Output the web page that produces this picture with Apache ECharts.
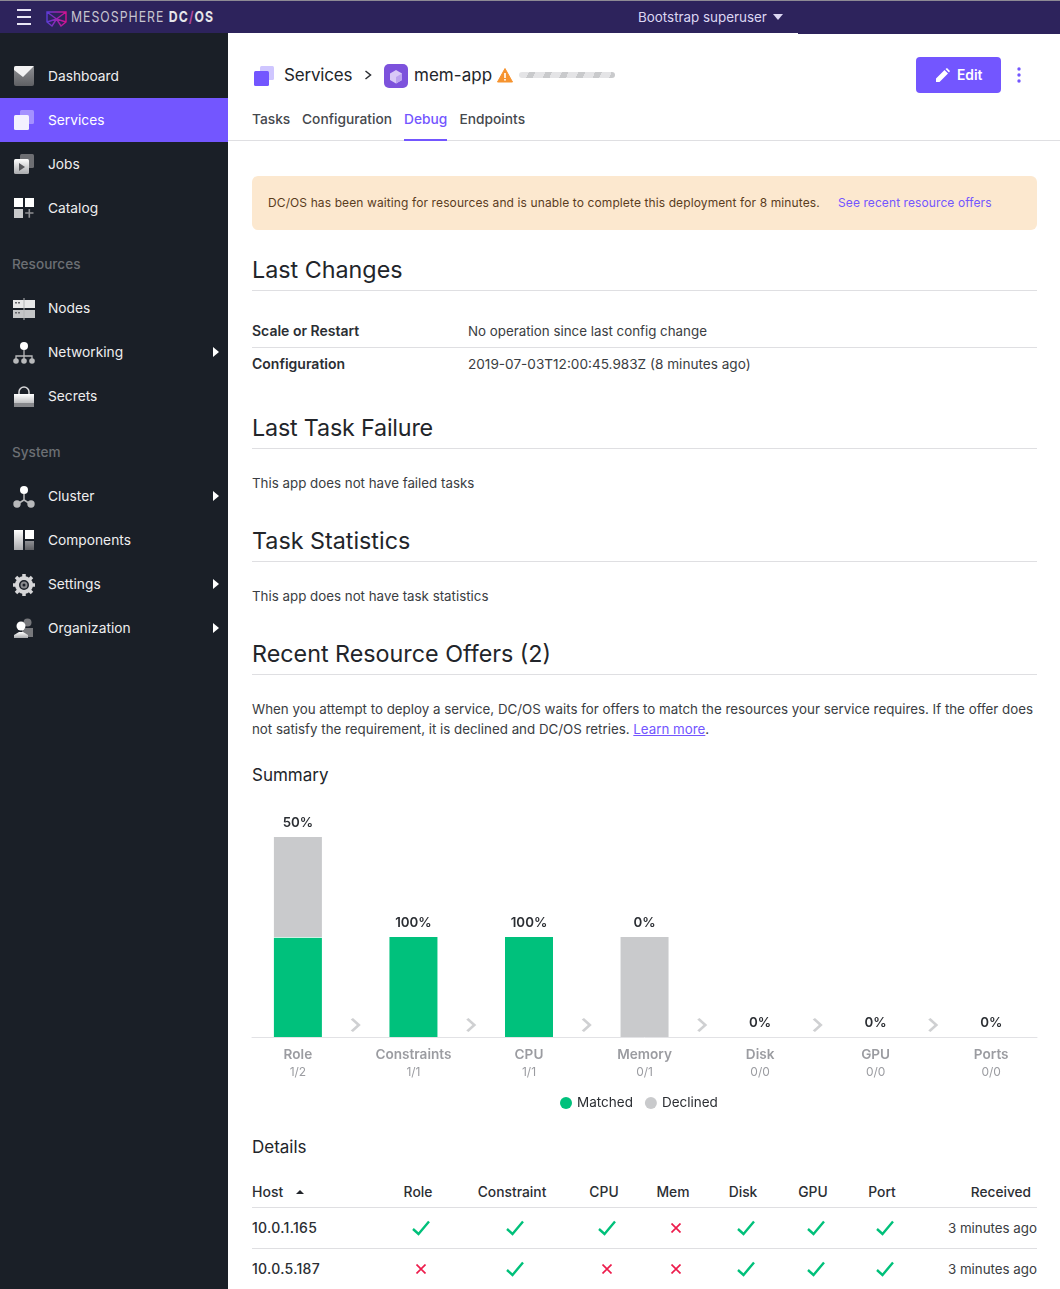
<!DOCTYPE html>
<html><head><meta charset="utf-8">
<script src="https://cdn.jsdelivr.net/npm/echarts@6/dist/echarts.min.js"></script>
<style>
html,body{margin:0;padding:0;background:#fff;width:1060px;height:1289px;overflow:hidden;font-family:Inter,sans-serif;-webkit-font-smoothing:antialiased}
#page{position:relative;width:1060px;height:1289px;overflow:hidden}
.t{position:absolute;white-space:nowrap;line-height:1.2}
.b{position:absolute}
svg{position:absolute;display:block}
a{color:inherit}
</style></head><body><div id="page">
<div class="b" style="left:0;top:33px;width:228px;height:1256px;background:#1a1f27"></div>
<div class="b" style="left:0;top:0;width:1060px;height:33px;background:#2d235c"></div>
<div class="b" style="left:798px;top:33px;width:262px;height:1px;background:#2d235c"></div>
<div class="b" style="left:0;top:0;width:1060px;height:1px;background:#8d8a94"></div>
<div class="b" style="left:0;top:98px;width:228px;height:44px;background:#7356ff"></div>
<div id="chart" class="b" style="left:228px;top:790px;width:832px;height:330px"></div>
</div>
<script>
// ---------- chart data ----------
const categories = ['Role','Constraints','CPU','Memory','Disk','GPU','Ports'];
const ratioLabels = ['1/2','1/1','1/1','0/1','0/0','0/0','0/0'];
const percentLabels = ['50%','100%','100%','0%','0%','0%','0%'];
const matched = [1,1,1,0,0,0,0];
const declined = [1,0,0,1,0,0,0];
const seriesNames = ['Matched','Declined'];
// steps between the bars, on a 0–6 position scale
const stepPositions = [0.5,1.5,2.5,3.5,4.5,5.5];

// ---------- page text ----------
const navItems = [['Dashboard',76],['Services',120],['Jobs',164],['Catalog',208],['Nodes',308],['Networking',352,1],['Secrets',396],['Cluster',496,1],['Components',540],['Settings',584,1],['Organization',628,1]];
const navSections = [['Resources',264],['System',452]];
const tabs = [['Tasks',252],['Configuration',302],['Debug',404],['Endpoints',459.5]];
const tableHeads = [['Role',418],['Constraint',512],['CPU',604],['Mem',673],['Disk',743],['GPU',813],['Port',882]];
const markCols = [421,515,607,676,746,816,885];
const rows = [
  {host:'10.0.1.165',y:1228,marks:[1,1,1,0,1,1,1],age:'3 minutes ago'},
  {host:'10.0.5.187',y:1269,marks:[0,1,0,0,1,1,1],age:'3 minutes ago'}
];

const page = document.getElementById('page');
function T(x,y,s,o){o=o||{};
  const e=document.createElement('div');e.className='t';e.innerHTML=s;
  const tx=o.a==='c'?'-50%':o.a==='r'?'-100%':'0';
  e.style.cssText+=`left:${x}px;top:${y}px;transform:translate(${tx},-50%);font-size:${o.s||14}px;font-weight:${o.w||400};color:${o.c||'#2b2e33'};${o.x||''}`;
  page.appendChild(e);}
function B(x,y,w,h,c,x2){const e=document.createElement('div');e.className='b';
  e.style.cssText+=`left:${x}px;top:${y}px;width:${w}px;height:${h}px;background:${c};${x2||''}`;page.appendChild(e);}
function S(x,y,w,h,inner,vb){page.insertAdjacentHTML('beforeend',`<svg style="left:${x}px;top:${y}px" width="${w}" height="${h}" viewBox="${vb||('0 0 '+w+' '+h)}">${inner}</svg>`);}

// gradient defs
S(0,0,0,0,`<defs><linearGradient id="g" x1="0" y1="0" x2="0" y2="1"><stop offset="0" stop-color="#fff"/><stop offset="1" stop-color="#a9aaad"/></linearGradient>
<linearGradient id="g2" x1="0" y1="0" x2="0" y2="1"><stop offset="0" stop-color="#8f9094"/><stop offset="1" stop-color="#5f6064"/></linearGradient>
<linearGradient id="lg" x1="0" y1="0" x2="1" y2="0"><stop offset="0" stop-color="#5b3bd6"/><stop offset="1" stop-color="#d5118f"/></linearGradient></defs>`);

// top bar
[10,17,24].forEach(y=>B(17,y-1,14,2,'#e9e6f5'));
S(46,11,21,16,`<path d="M1 1 L20 1 L20 11 L15 15 L10.5 8 L6 15 L1 11 Z M1 1 L10.5 8 L20 1 M1 11 L10.5 8 L20 11" fill="none" stroke="url(#lg)" stroke-width="1.4"/>`);
T(71,17,'MESOSPHERE <b style="color:#e6e6ea;font-weight:700">DC<span style="color:#b0479f">/</span>OS</b>',{c:'#c7c5cf',s:14,x:'letter-spacing:1.15px;transform-origin:left center;transform:translate(0,-50%) scale(.877,1.08);'});
T(638,17,'Bootstrap superuser',{c:'#dcd7f3',s:13.4});
S(773,14,10,6,'<path d="M0 0H10L5 6Z" fill="#dcd7f3"/>');

// sidebar icons
const icons={
 Dashboard:'<rect width="20" height="20" rx="2" fill="url(#g2)"/><path d="M6 0H20L9 11 L0 4V2A2 2 0 0 1 2 0Z" fill="#f2f2f3"/>',
 Services:'<rect x="6" width="14" height="14" rx="1.5" fill="#ffffff" opacity=".35"/><rect y="5" width="15" height="15" rx="1.5" fill="#f3f1ff"/>',
 Jobs:'<rect x="6" width="14" height="14" rx="1.5" fill="#6d6e72"/><rect y="5" width="15" height="15" rx="1.5" fill="url(#g)"/><path d="M5 9 L11 13 L5 17Z" fill="#55565a"/>',
 Catalog:'<rect width="9" height="9" fill="#fff"/><rect x="11" width="9" height="9" fill="#fff"/><rect y="11" width="9" height="9" fill="#c8c9cb"/><path d="M14.5 11h1.6v3.2h3.4v1.6h-3.4v4h-1.6v-4H11.200v-1.600h3.300z" fill="#8e8f93"/>',
 Nodes:'<rect y="2" width="22" height="8" fill="#e8e8e9"/><rect y="12" width="22" height="8" fill="#c4c5c7"/><rect x="10.500" width="1" height="22" fill="#b4b5b8"/><rect x="2" y="4" width="2" height="1.500" fill="#66676b"/><rect x="5" y="4" width="2" height="1.500" fill="#66676b"/><rect x="2" y="14" width="2" height="1.500" fill="#66676b"/><rect x="5" y="14" width="2" height="1.500" fill="#66676b"/>',
 Networking:'<circle cx="11" cy="4" r="4" fill="#fff"/><path d="M11 8v6M3 18v-4h16v4M11 14v4" stroke="#b8b9bb" stroke-width="1.300" fill="none"/><circle cx="3" cy="19" r="2.800" fill="#b8b9bb"/><circle cx="11" cy="19" r="2.800" fill="#b8b9bb"/><circle cx="19" cy="19" r="2.800" fill="#b8b9bb"/>',
 Secrets:'<path d="M6 9V6a5 5 0 0 1 10 0v3" stroke="#d8d8d9" stroke-width="1.500" fill="none"/><rect x="1" y="8" width="20" height="12" fill="url(#g)"/><rect x="1" y="17" width="20" height="4" fill="#87888c"/>',
 Cluster:'<circle cx="11" cy="4" r="4" fill="#fff"/><path d="M11 8v6L3 19M11 14l8 5" stroke="#b8b9bb" stroke-width="1.500" fill="none"/><circle cx="4" cy="18" r="3.700" fill="#b8b9bb"/><circle cx="18" cy="18" r="3.700" fill="#b8b9bb"/>',
 Components:'<rect x="1" width="9" height="20" fill="url(#g)"/><rect x="12" width="9" height="9" fill="#fff"/><rect x="12" y="11" width="9" height="9" fill="url(#g2)"/>',
 Settings:'<circle cx="11" cy="11" r="7" fill="none" stroke="#d6d6d8" stroke-width="4"/><circle cx="11" cy="11" r="2.500" fill="none" stroke="#88898d" stroke-width="2"/><g stroke="#d6d6d8" stroke-width="3.500"><path d="M11 0v4M11 18v4M0 11h4M18 11h4M3 3l3 3M16 16l3 3M19 3l-3 3M6 16l-3 3"/></g>',
 Organization:'<circle cx="14.500" cy="4.500" r="4" fill="#77787c"/><path d="M9 10h11v9H9z" fill="#77787c"/><circle cx="8" cy="8" r="4.500" fill="#fff"/><path d="M1 20v-3l5-3h4l5 3v3z" fill="url(#g)"/>'
};
navItems.forEach(([n,y,arrow])=>{
  const y0=y-10;
  const big=['Nodes','Networking','Secrets','Cluster','Components','Settings','Organization'].includes(n);
  S(big?13:14,y0,big?22:20,big?22:20,icons[n]);
  T(48,y,n,{c:n==='Services'?'#fff':'#eeeeef',w:400,s:13.75});
  if(arrow)S(213,y-5,6,10,'<path d="M0 0L6 5L0 10Z" fill="#fff"/>');
});
navSections.forEach(([n,y])=>T(12,y,n,{c:'#6c6f74',w:500,s:13.6}));

// breadcrumb
S(254,66,20,20,'<rect x="6" width="14" height="14" rx="1.500" fill="#cfc6ff"/><rect y="5" width="15" height="15" rx="1.500" fill="#7356ff"/>');
T(284,75,'Services',{s:17,c:'#22252a',x:'letter-spacing:-.2px;'});
S(364,70,8,10,'<path d="M1.500 1L6.500 5L1.500 9" fill="none" stroke="#2b2e33" stroke-width="1.500"/>');
S(384,64,24,24,'<rect width="24" height="24" rx="5" fill="#7d52dc"/><path d="M12 6l6 3.500v6.500l-6 3.500-6-3.500V9.500z" fill="#d9c9f7"/><path d="M12 13l6-3.500v6.500l-6 3.500z" fill="#bca3ef"/>');
T(414,75,'mem-app',{s:17,c:'#22252a',x:'letter-spacing:.03px;'});
S(497,68,16,15,'<path d="M8 0.500L15.500 14H0.500Z" fill="#f6932f" stroke="#f6932f" stroke-linejoin="round"/><rect x="7.200" y="5" width="1.600" height="5" fill="#fff"/><rect x="7.200" y="11" width="1.600" height="1.600" fill="#fff"/>');
B(519,72,96,6,'repeating-linear-gradient(115deg,#e4e4e6 0 9px,#c9cacc 9px 15px)','border-radius:3px');
B(916,57,85,36,'#7356ff','border-radius:4px');
S(936,68,14,14,'<path d="M0 14V10.500L8.500 2L12 5.500L3.500 14Z M9.500 1L11 0L14 3L13 4.500Z" fill="#fff"/>');
T(957,75,'Edit',{c:'#fff',w:600,s:13.8});
[69,75,81].forEach(y=>S(1017,y-2,4,4,'<circle cx="2" cy="2" r="1.700" fill="#7356ff"/>'));

// tabs
tabs.forEach(([n,x])=>T(x,119,n,{w:500,s:13.75,c:n==='Debug'?'#7356ff':'#45484d'}));
B(228,140,832,1,'#dfdfe2');B(404,139,43,2,'#7356ff');

// alert
B(252,176,785,54,'#fce8cf','border-radius:6px');
T(268,203,'DC/OS has been waiting for resources and is unable to complete this deployment for 8 minutes.',{s:12,c:'#5a3c1e',x:'letter-spacing:.11px;'});
T(838,203,'See recent resource offers',{s:12,c:'#7356ff',x:'letter-spacing:.09px;'});

// sections
const bodyC='#3a3d42', BS=13.33;
[['Last Changes',270,290,0],['Last Task Failure',428,448,-.18],['Task Statistics',541,561,0],['Recent Resource Offers (2)',654,674,0]].forEach(([n,y,l,ls])=>{T(252,y,n,{s:23.3,c:'#22252a',x:`letter-spacing:${ls}px;`});B(252,l,785,1,'#dfdfe2');});
T(252,331,'Scale or Restart',{w:600});T(468,331,'No operation since last config change',{c:bodyC,s:BS});
B(252,347,785,1,'#dfdfe2');
T(252,364,'Configuration',{w:600});T(468,364,'2019-07-03T12:00:45.983Z (8 minutes ago)',{c:bodyC,s:13.6});
T(252,483,'This app does not have failed tasks',{c:bodyC,s:BS});
T(252,596,'This app does not have task statistics',{c:bodyC,s:BS});
T(252,709,'When you attempt to deploy a service, DC/OS waits for offers to match the resources your service requires. If the offer does',{c:bodyC,s:BS});
T(252,729,'not satisfy the requirement, it is declined and DC/OS retries. <u style="color:#7356ff">Learn more</u>.',{c:bodyC,s:BS});
T(252,775,'Summary',{s:17,c:'#22252a'});
T(252,1147,'Details',{s:17,c:'#22252a'});

// table
T(252,1192,'Host',{w:500});
S(296,1190,8,4,'<path d="M0 4L4 0L8 4Z" fill="#22252a"/>');
tableHeads.forEach(([n,x])=>T(x,1192,n,{w:500,a:'c',s:13.85}));
T(1031,1192,'Received',{w:500,a:'r',s:13.7});
B(252,1207,785,1,'#dfdfe2');B(252,1248,785,1,'#dfdfe2');
rows.forEach(r=>{
  T(252,r.y,r.host,{w:500,x:'letter-spacing:.3px;'});
  T(1037,r.y,r.age,{a:'r',c:bodyC,s:BS});
  r.marks.forEach((m,i)=>{
    const cx=markCols[i];
    if(m)S(cx-9,r.y-8,18,16,'<path d="M1 9L6.500 14L17 1.500" fill="none" stroke="#00c07a" stroke-width="2.400"/>');
    else S(cx-5,r.y-5,10,10,'<path d="M0.500 0.500L9.500 9.500M9.500 0.500L0.500 9.500" fill="none" stroke="#ed1c4c" stroke-width="1.700"/>');
  });
});
page.appendChild(document.getElementById('chart'));

// ---------- ECharts ----------
const chart = echarts.init(document.getElementById('chart'));
const FONT='Inter';
chart.setOption({
  animation:false,
  textStyle:{fontFamily:FONT},
  legend:{data:seriesNames,left:327,top:301,icon:'circle',itemWidth:12,itemHeight:12,itemGap:12,
    textStyle:{fontFamily:FONT,fontSize:13.5,color:'#2b2e33'},selectedMode:false},
  grid:[
    {left:12.125,width:808.85,top:47,height:200,containLabel:false},
    {left:24,width:785,top:47,height:200}
  ],
  xAxis:[
    {type:'category',gridIndex:0,data:categories,axisLine:{show:false},axisTick:{show:false},
     axisLabel:{margin:9,interval:0,formatter:(v,i)=>`{a|${v}}\n{b|${ratioLabels[i]}}`,
       rich:{a:{fontFamily:FONT,fontSize:13.6,fontWeight:600,color:'#9b9ca1',lineHeight:17},
             b:{fontFamily:FONT,fontSize:12,color:'#9b9ca1',lineHeight:18}}}},
    {type:'value',gridIndex:1,min:-0.3983,max:6.3983,axisLine:{show:true,onZero:false,lineStyle:{color:'#e2e2e5',width:1}},
     axisTick:{show:false},axisLabel:{show:false},splitLine:{show:false}}
  ],
  yAxis:[
    {type:'value',gridIndex:0,min:0,max:2,show:false},
    {type:'value',gridIndex:1,min:0,max:2,show:false}
  ],
  series:[
    {name:seriesNames[0],type:'bar',stack:'offers',xAxisIndex:0,yAxisIndex:0,barWidth:48,
     itemStyle:{color:'#00c17c'},data:matched},
    {name:seriesNames[1],type:'bar',stack:'offers',xAxisIndex:0,yAxisIndex:0,barWidth:48,
     itemStyle:{color:'#c9cacc'},data:declined,
     label:{show:true,position:'top',distance:8,formatter:p=>percentLabels[p.dataIndex],
       fontFamily:FONT,fontSize:13.3,fontWeight:600,color:'#2b2e33'}},
    {type:'scatter',xAxisIndex:1,yAxisIndex:1,silent:true,z:1,
     symbol:'path://M0 1.5L2 0L9 7L2 14L0 12.5L5.5 7Z',symbolSize:[10,14],
     itemStyle:{color:'#c3c4c7'},
     data:stepPositions.map(p=>[p,0.12])},
    // thin white seam where a matched and a declined segment meet
    {type:'scatter',xAxisIndex:1,yAxisIndex:1,silent:true,z:5,
     symbol:'rect',symbolSize:[50,1],itemStyle:{color:'#fff'},
     data:matched.map((v,i)=>[i,v]).filter(d=>d[1]>0&&declined[d[0]]>0).map(d=>[d[0],d[1]-0.005])}
  ]
});
</script></body></html>
